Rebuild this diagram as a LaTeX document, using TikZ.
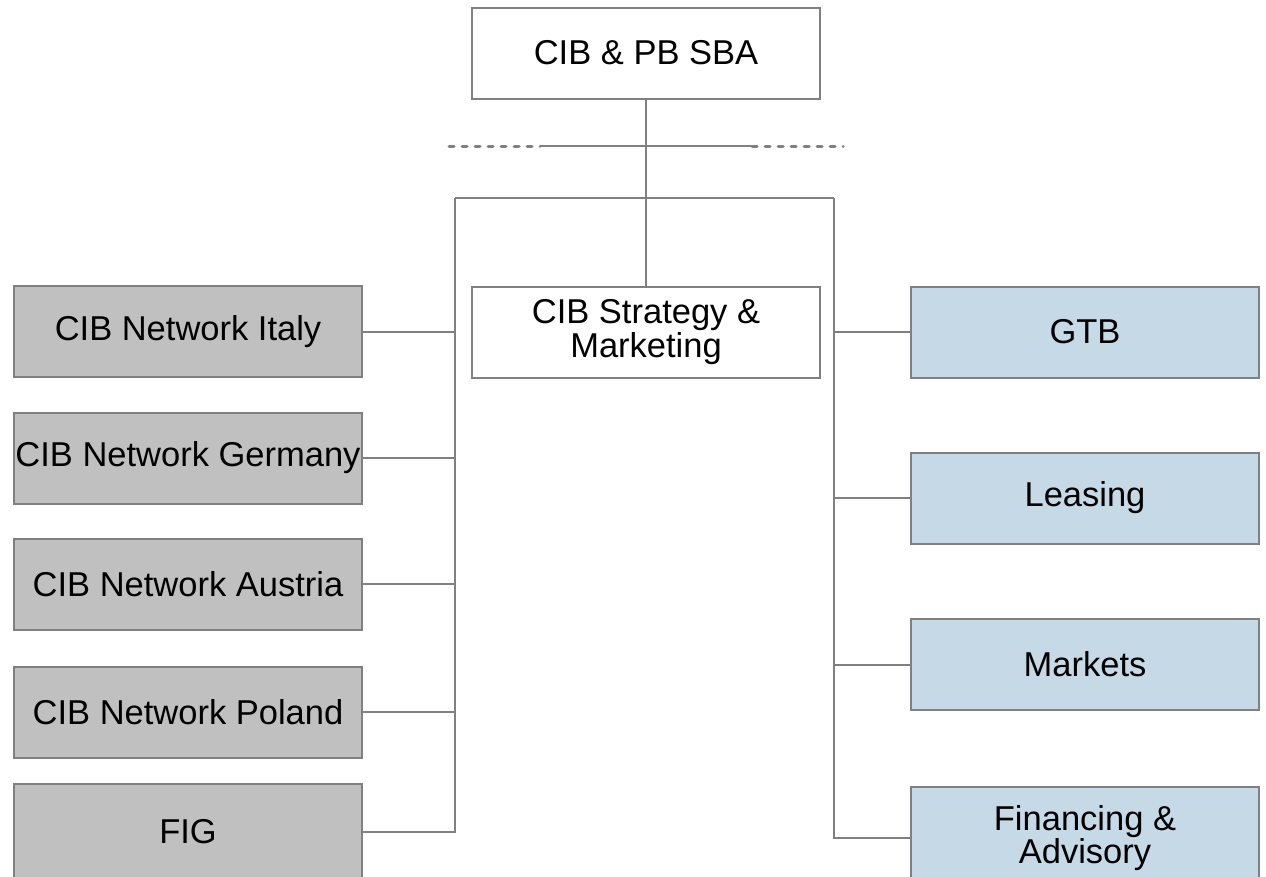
\documentclass[tikz,border=0pt]{standalone}
\usepackage{fontspec}
\setmainfont{Liberation Sans}
\begin{document}
\begin{tikzpicture}[x=1pt,y=-1pt,
  line width=2pt,
  box/.style={draw=linegray, rectangle, minimum width=348pt, minimum height=91pt,
    inner sep=0pt, align=center, font=\fontsize{34.5}{32}\selectfont},
  whitebox/.style={box, fill=white},
  graybox/.style={box, fill=boxgray},
  bluebox/.style={box, fill=boxblue},
  link/.style={draw=linegray, line width=2pt},
  dashlink/.style={draw=linegray, line width=3pt, line cap=round, dash pattern=on 5pt off 8pt}]
\definecolor{linegray}{RGB}{128,128,128}
\definecolor{boxgray}{RGB}{192,192,192}
\definecolor{boxblue}{RGB}{197,217,230}
\clip (0,0) rectangle (1266,876);
\useasboundingbox (0,0) rectangle (1266,876);

% head and staff unit
\node[whitebox] (top) at (646,53) {CIB \& PB SBA};
\node[whitebox] (strat) at (646,332) {CIB Strategy \&\\Marketing};

% regional networks
\node[graybox] (italy)   at (188,331.5) {CIB Network Italy};
\node[graybox] (germany) at (188,458)   {CIB Network Germany};
\node[graybox] (austria) at (188,584)   {CIB Network Austria};
\node[graybox] (poland)  at (188,712)   {CIB Network Poland};
\node[graybox, minimum height=96pt] (fig) at (188,832) {FIG};

% product lines
\node[bluebox] (gtb)     at (1085,332)   {GTB};
\node[bluebox] (leasing) at (1085,498)   {Leasing};
\node[bluebox] (markets) at (1085,664.5) {Markets};
\node[bluebox, minimum height=102pt] (fin) at (1085,838) {Financing \&\\Advisory};

% bus coordinates
\coordinate (lbus) at (455,198);
\coordinate (rbus) at (834,198);
\coordinate (dl) at (449,146);
\coordinate (sl) at (540,146);
\coordinate (sr) at (752,146);
\coordinate (dr) at (843,146);

% vertical trunk and dotted side line
\draw[link] (top.south) -- (strat.north);
\draw[dashlink] (dl) -- (sl);
\draw[link] (sl) -- (sr);
\draw[dashlink] (sr) -- (dr);

% horizontal bar and the two buses
\draw[link] (lbus) -- (rbus);
\draw[link] (lbus) -- (lbus |- fig.east) -- (fig.east);
\draw[link] (rbus) -- (rbus |- fin.west) -- (fin.west);

% branches to the networks
\draw[link] (italy.east)   -- (italy.east -| lbus);
\draw[link] (germany.east) -- (germany.east -| lbus);
\draw[link] (austria.east) -- (austria.east -| lbus);
\draw[link] (poland.east)  -- (poland.east -| lbus);

% branches to the product lines
\draw[link] (gtb.west)     -- (gtb.west -| rbus);
\draw[link] (leasing.west) -- (leasing.west -| rbus);
\draw[link] (markets.west) -- (markets.west -| rbus);
\end{tikzpicture}
\end{document}
